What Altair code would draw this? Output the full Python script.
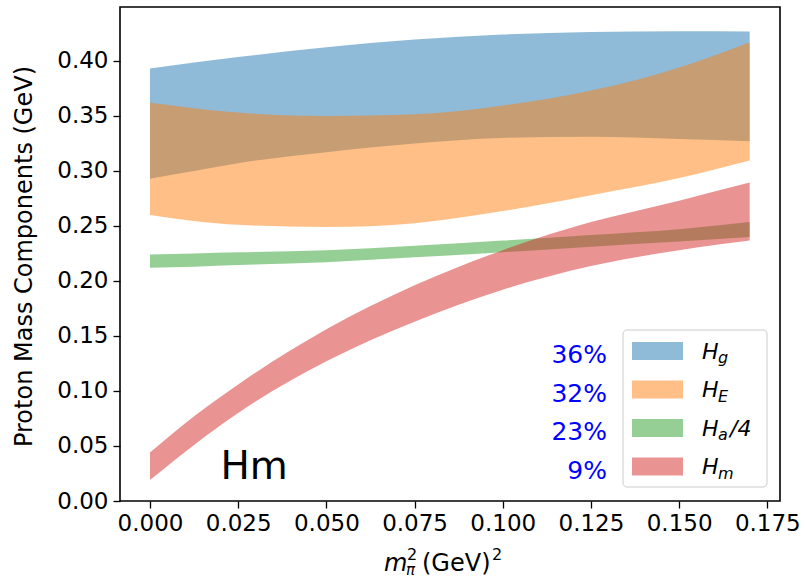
import altair as alt
import pandas as pd

# pion mass squared (GeV^2) at which the bands are sampled
mpi2 = [0.0, 0.0125, 0.025, 0.05, 0.075, 0.1, 0.125, 0.15, 0.17]

# lower / upper edges of each component band (GeV)
hg_lo = [0.293, 0.300, 0.307, 0.317, 0.325, 0.330, 0.331, 0.329, 0.327]
hg_hi = [0.393, 0.3985, 0.4035, 0.4125, 0.4195, 0.424, 0.4262, 0.427, 0.4267]
he_lo = [0.260, 0.2545, 0.251, 0.249, 0.2525, 0.2635, 0.278, 0.2935, 0.3094]
he_hi = [0.362, 0.357, 0.353, 0.350, 0.3515, 0.3595, 0.373, 0.394, 0.417]
ha_lo = [0.212, 0.213, 0.2145, 0.217, 0.2215, 0.2261, 0.2312, 0.2358, 0.240]
ha_hi = [0.224, 0.225, 0.226, 0.228, 0.232, 0.2367, 0.2418, 0.247, 0.2536]
hm_lo = [0.019, 0.051, 0.080, 0.127, 0.163, 0.192, 0.2135, 0.228, 0.2367]
hm_hi = [0.044, 0.077, 0.106, 0.156, 0.196, 0.228, 0.2535, 0.2730, 0.2894]

colors = ["#1f77b4", "#ff7f0e", "#2ca02c", "#d62728"]
subscripts = ["g", "E", "a", "m"]
suffixes = ["", "", "/4", ""]
shares = ["36%", "32%", "23%", "9%"]

x_ticks = [0.0, 0.025, 0.05, 0.075, 0.1, 0.125, 0.15, 0.175]
y_ticks = [0.0, 0.05, 0.10, 0.15, 0.20, 0.25, 0.30, 0.35, 0.40]

FONT = "DejaVu Sans"
W, H = 660, 494

x_scale = alt.Scale(domain=[-0.0085, 0.1786], nice=False, zero=False)
y_scale = alt.Scale(domain=[0.0, 0.449], nice=False, zero=False)

common_axis = dict(
    grid=False, domain=False, tickSize=7, tickWidth=1.3, tickColor="black",
    labelColor="black", labelFont=FONT, labelFontSize=23, labelOverlap=False,
    labelBound=False, labelFlush=False,
)
x_axis = alt.Axis(values=x_ticks, format=".3f", title=None, labelPadding=4, **common_axis)
y_axis = alt.Axis(
    values=y_ticks, format=".2f", labelPadding=5,
    title="Proton Mass Components (GeV)", titleFont=FONT, titleFontSize=24,
    titleFontWeight="normal", titleColor="black", titleAngle=270,
    titleX=-96, titleY=249, titleAlign="center", titleBaseline="middle",
    **common_axis,
)

layers = []

# component bands, drawn in order so later bands sit on top
for lo, hi, c in zip([hg_lo, he_lo, ha_lo, hm_lo], [hg_hi, he_hi, ha_hi, hm_hi], colors):
    df = pd.DataFrame({"mpi2": mpi2, "lo": lo, "hi": hi})
    layers.append(
        alt.Chart(df).mark_area(color=c, opacity=0.5, interpolate="monotone").encode(
            x=alt.X("mpi2:Q", scale=x_scale, axis=x_axis),
            y=alt.Y("lo:Q", scale=y_scale, axis=y_axis),
            y2="hi:Q",
        )
    )

# panel tag
tag = pd.DataFrame({"mpi2": [0.02], "v": [0.02], "t": ["Hm"]})
layers.append(
    alt.Chart(tag).mark_text(font=FONT, fontSize=39, align="left", baseline="alphabetic",
                             color="black").encode(
        x=alt.X("mpi2:Q", scale=x_scale, axis=x_axis),
        y=alt.Y("v:Q", scale=y_scale, axis=y_axis),
        text="t:N",
    )
)

blank = alt.Data(values=[{}])


def txt(s, x, y, size, italic=False, color="black", align="left"):
    return alt.Chart(blank).mark_text(
        text=s, font=FONT, fontSize=size, fontStyle="italic" if italic else "normal",
        color=color, align=align, baseline="alphabetic",
    ).encode(x=alt.value(x), y=alt.value(y))


# legend frame
layers.append(
    alt.Chart(blank).mark_rect(fill="white", fillOpacity=0.8, stroke="#cccccc",
                               strokeWidth=1, cornerRadius=4).encode(
        x=alt.value(503), x2=alt.value(647), y=alt.value(323), y2=alt.value(480)
    )
)

ROW = 38.5
for i, (c, sub, suf, pct) in enumerate(zip(colors, subscripts, suffixes, shares)):
    cy = 344 + ROW * i
    layers.append(
        alt.Chart(blank).mark_rect(color=c, opacity=0.5).encode(
            x=alt.value(512), x2=alt.value(563), y=alt.value(cy - 9), y2=alt.value(cy + 9)
        )
    )
    layers.append(txt("H", 582, cy + 7.5, 22, italic=True))
    layers.append(txt(sub, 598, cy + 12, 16, italic=True))
    if suf:
        layers.append(txt(suf, 610, cy + 7.5, 22, italic=True))
    layers.append(txt(pct, 487, 356 + 38.7 * i, 25, color="blue", align="right"))

# x-axis title: m_pi^2 (GeV)^2
layers.append(txt("m", 264, 564, 24, italic=True))
layers.append(txt("2", 287, 553, 16))
layers.append(txt("π", 286, 568, 15, italic=True))
layers.append(txt("(GeV)", 302, 564, 24))
layers.append(txt("2", 372, 553, 16))

chart = alt.layer(*layers).properties(
    width=W, height=H,
    padding={"left": 120, "top": 7, "right": 25, "bottom": 76},
    autosize=alt.AutoSizeParams(type="none"),
    background="white",
).configure_view(stroke="black", strokeWidth=1.6)

chart.save("out.html", embed_options={"renderer": "svg", "actions": False})
